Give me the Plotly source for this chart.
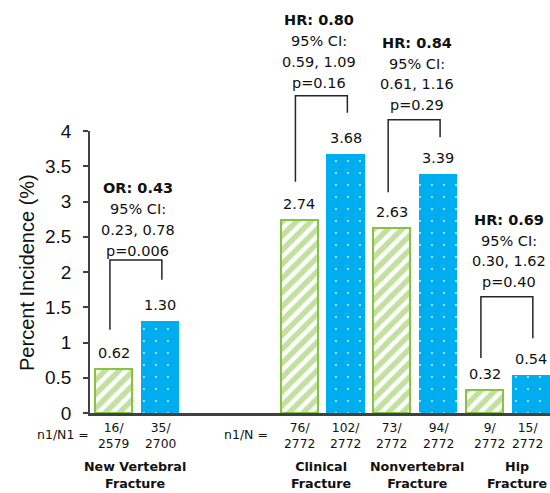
import plotly.graph_objects as go

# Bar positions on a numeric axis (two bars per fracture type)
green_x = [0, 4, 6, 8]
blue_x = [1, 5, 7, 9]
green_vals = [0.62, 2.74, 2.63, 0.32]
blue_vals = [1.30, 3.68, 3.39, 0.54]
green_counts = ["16/<br>2579", "76/<br>2772", "73/<br>2772", "9/<br>2772"]
blue_counts = ["35/<br>2700", "102/<br>2772", "94/<br>2772", "15/<br>2772"]
count_x_green = [0, 4, 6, 8.11]
count_x_blue = [1, 5, 7, 8.93]

categories = ["New Vertebral<br>Fracture", "Clinical<br>Fracture",
              "Nonvertebral<br>Fracture", "Hip<br>Fracture"]
category_x = [0.46, 4.47, 6.54, 8.7]

stat_names = ["OR", "HR", "HR", "HR"]
stat_vals = ["0.43", "0.80", "0.84", "0.69"]
ci_text = ["0.23, 0.78", "0.59, 1.09", "0.61, 1.16", "0.30, 1.62"]
p_text = ["p=0.006", "p=0.16", "p=0.29", "p=0.40"]
stat_x = [0.52, 4.42, 6.55, 8.52]
stat_top_y = [3.19, 5.57, 5.25, 2.74]

# bracket heights: left foot, top, right foot
bracket_left = [1.18, 3.28, 3.13, 0.78]
bracket_top = [2.17, 4.50, 4.16, 1.65]
bracket_right = [1.89, 4.26, 3.91, 1.06]

X_RANGE = [-0.51, 9.41]
Y_RANGE = [0, 4]

GREEN = "#86C440"
BLUE = "#00AEEF"
TXT = "#111111"
VFONT = "DejaVu Sans"


def px(x):
    """data x -> paper x (lets labels sit outside the axis range)"""
    return (x - X_RANGE[0]) / (X_RANGE[1] - X_RANGE[0])


def py(y):
    return (y - Y_RANGE[0]) / (Y_RANGE[1] - Y_RANGE[0])


fig = go.Figure()
fig.add_trace(go.Bar(
    x=green_x, y=green_vals, width=0.8,
    marker=dict(color="white", line=dict(color=GREEN, width=2),
                pattern=dict(shape="/", fgcolor=GREEN, bgcolor="white",
                             size=10, solidity=0.55, fillmode="overlay")),
    showlegend=False, hoverinfo="skip"))
fig.add_trace(go.Bar(
    x=blue_x, y=blue_vals, width=0.82,
    marker=dict(color=BLUE, line=dict(color=BLUE, width=0),
                pattern=dict(shape=".", fgcolor="#d8f3ff", bgcolor=BLUE,
                             size=12, solidity=0.02, fillmode="replace")),
    showlegend=False, hoverinfo="skip"))

ann = []


def label(x, y, text, size, yanchor="middle", yshift=0, family=VFONT, **kw):
    ann.append(dict(x=px(x), y=py(y), xref="paper", yref="paper", text=text,
                    showarrow=False, xanchor="center", yanchor=yanchor,
                    yshift=yshift, font=dict(family=family, size=size, color=TXT),
                    **kw))


# value labels above bars
for xs, vs in ((green_x, green_vals), (blue_x, blue_vals)):
    for x, v in zip(xs, vs):
        label(x, v, f"{v:.2f}", 14.5, yanchor="bottom", yshift=6)

# statistics text blocks
for i in range(4):
    lines = [f"<b>{stat_names[i]}: {stat_vals[i]}</b>", "95% CI:", ci_text[i], p_text[i]]
    for j, line in enumerate(lines):
        label(stat_x[i], stat_top_y[i], line, 14.5, yshift=-20.8 * j)

# counts under the axis
for xs, labels in ((count_x_green, green_counts), (count_x_blue, blue_counts)):
    for x, t in zip(xs, labels):
        label(x, -0.32, t, 12.3)
label(-1.09, -0.30, "n1/N1 =", 12.5)
label(2.86, -0.30, "n1/N =", 12.5)

# category labels
for x, c in zip(category_x, categories):
    label(x, -0.88, f"<b>{c}</b>", 12.7)

# y-axis title
ann.append(dict(x=-0.137, y=0.5, xref="paper", yref="paper",
                xanchor="center", yanchor="middle",
                text="Percent Incidence (%)", textangle=-90, showarrow=False,
                font=dict(family="Liberation Sans", size=20, color=TXT)))

# comparison brackets
shapes = []
for i in range(4):
    xl = px(green_x[i] - 0.08)
    xr = px(blue_x[i] + 0.04)
    shapes.append(dict(
        type="path", xref="paper", yref="paper",
        path=f"M{xl},{py(bracket_left[i])} L{xl},{py(bracket_top[i])} "
             f"L{xr},{py(bracket_top[i])} L{xr},{py(bracket_right[i])}",
        line=dict(color="#262626", width=1.5)))

fig.update_layout(
    width=550, height=493,
    margin=dict(l=90, r=0, t=131, b=80),
    paper_bgcolor="white", plot_bgcolor="white",
    annotations=ann, shapes=shapes, bargap=0,
    xaxis=dict(range=X_RANGE, showticklabels=False, ticks="",
               showgrid=False, zeroline=False, showline=True,
               linecolor="#404040", linewidth=2.5),
    yaxis=dict(range=Y_RANGE, tickvals=[0, 0.5, 1, 1.5, 2, 2.5, 3, 3.5, 4],
               ticks="outside", ticklen=5, tickwidth=1.5, tickcolor="#404040",
               showgrid=False, zeroline=False, showline=True,
               linecolor="#404040", linewidth=1.5, ticklabelstandoff=8,
               tickfont=dict(family="Liberation Sans", size=19, color=TXT)),
)

fig.write_html("out.html")
